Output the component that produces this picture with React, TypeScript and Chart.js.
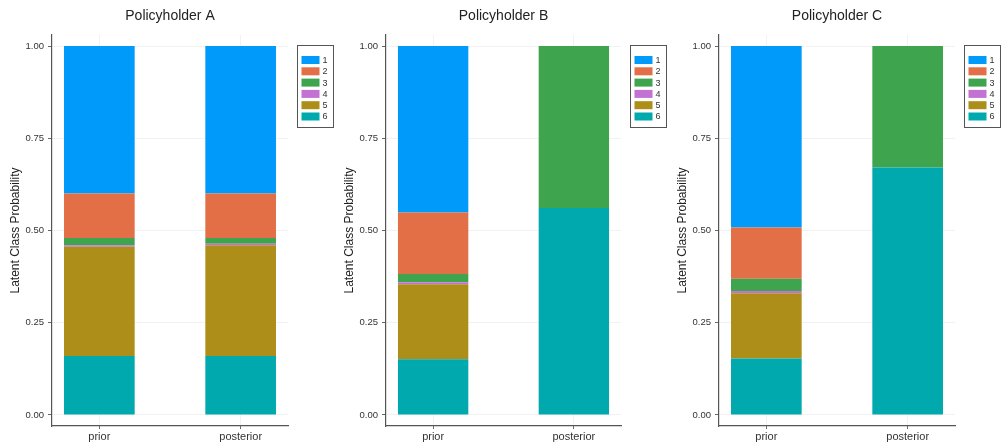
import React, { useEffect, useRef } from "react";
import { Chart, registerables } from "chart.js";

Chart.register(...registerables);

const FONT = "'Liberation Sans', Arial, sans-serif";

const classLabels = ["1", "2", "3", "4", "5", "6"];
const classColors = ["#009AFA", "#E36F47", "#3EA44E", "#C371D2", "#AC8E18", "#00A9AD"];
const stageLabels = ["prior", "posterior"];
const stagePositions = [1, 2];
const yTickValues = [0, 0.25, 0.5, 0.75, 1];
const panelTitles = ["Policyholder A", "Policyholder B", "Policyholder C"];

// class probabilities, classes 1..6
const priorA = [0.4, 0.12, 0.02, 0.004, 0.296, 0.16];
const posteriorA = [0.4, 0.12, 0.016, 0.004, 0.3, 0.16];
const priorB = [0.451, 0.167, 0.022, 0.006, 0.203, 0.151];
const posteriorB = [0, 0, 0.439, 0, 0, 0.561];
const priorC = [0.492, 0.139, 0.033, 0.006, 0.177, 0.153];
const posteriorC = [0, 0, 0.329, 0, 0, 0.671];

const panelData = [
  [priorA, posteriorA],
  [priorB, posteriorB],
  [priorC, posteriorC],
];

const panelLefts = [0, 334, 667];
const panelWidths = [334, 333, 334];

const titleAndLegendPlugin = {
  id: "titleAndLegend",
  afterDraw(chart: any) {
    const ctx = chart.ctx;
    const area = chart.chartArea;
    const title = chart.options.plugins.panelTitle.text;
    ctx.save();
    ctx.fillStyle = "#222";
    ctx.font = `14px ${FONT}`;
    ctx.textAlign = "center";
    ctx.textBaseline = "middle";
    ctx.fillText(title, (area.left + area.right) / 2, 16);

    // legend box
    const bx = area.right + 9.5;
    const by = 45.5;
    const bw = 36;
    const bh = 82;
    ctx.strokeStyle = "#555";
    ctx.lineWidth = 1;
    ctx.strokeRect(bx, by, bw, bh);
    ctx.font = `9px ${FONT}`;
    ctx.textAlign = "left";
    for (let k = 0; k < classLabels.length; k++) {
      const cy = 60 + k * 11.3;
      ctx.fillStyle = classColors[k];
      ctx.fillRect(bx + 4, cy - 4, 18, 8);
      ctx.fillStyle = "#333";
      ctx.fillText(classLabels[k], bx + 25, cy + 0.5);
    }
    ctx.restore();
  },
};

function Panel({ index }: { index: number }) {
  const ref = useRef<HTMLCanvasElement | null>(null);
  useEffect(() => {
    if (!ref.current) return;
    const [prior, posterior] = panelData[index];
    const stages = [prior, posterior];
    const datasets = [];
    for (let k = classLabels.length - 1; k >= 0; k--) {
      datasets.push({
        label: classLabels[k],
        data: stagePositions.map((x, i) => ({ x, y: stages[i][k] })),
        backgroundColor: classColors[k],
        borderWidth: 0,
        categoryPercentage: 1,
        barPercentage: 0.5,
      });
    }
    const chart = new Chart(ref.current, {
      type: "bar",
      data: { datasets: datasets as any },
      plugins: [titleAndLegendPlugin],
      options: {
        responsive: false,
        animation: false,
        layout: { padding: { top: 35, right: 46, left: 0, bottom: 0 } },
        plugins: {
          legend: { display: false },
          title: { display: false },
          tooltip: { enabled: false },
          panelTitle: { text: panelTitles[index] },
        } as any,
        scales: {
          x: {
            type: "linear",
            stacked: true,
            offset: false,
            min: 0.665,
            max: 2.335,
            afterBuildTicks: (s: any) => {
              s.ticks = stagePositions.map((v) => ({ value: v }));
            },
            afterFit: (s: any) => {
              s.height = 17;
            },
            ticks: {
              callback: (_v: any, i: number) => stageLabels[i],
              font: { family: FONT, size: 11 },
              color: "#333",
              padding: 1,
              maxRotation: 0,
              autoSkip: false,
            },
            grid: { offset: false, color: "rgba(0,0,0,0.05)", tickLength: 3, tickColor: "#666" },
            border: { color: "#555", width: 1.2 },
          },
          y: {
            stacked: true,
            min: -0.03,
            max: 1.03,
            afterBuildTicks: (s: any) => {
              s.ticks = yTickValues.map((v) => ({ value: v }));
            },
            afterFit: (s: any) => {
              s.width = 52;
            },
            ticks: {
              callback: (v: any) => Number(v).toFixed(2),
              font: { family: FONT, size: 9.5 },
              color: "#333",
              padding: 4,
            },
            grid: { color: "rgba(0,0,0,0.05)", tickLength: 4, tickColor: "#666" },
            border: { color: "#555", width: 1.2 },
            title: {
              display: true,
              text: "Latent Class Probability",
              font: { family: FONT, size: 12 },
              color: "#222",
              padding: { top: 8, bottom: 0 },
            },
          },
        },
      } as any,
    });
    return () => chart.destroy();
  }, [index]);
  return (
    <div
      style={{
        position: "absolute",
        left: panelLefts[index],
        top: 0,
        width: panelWidths[index],
        height: 443,
      }}
    >
      <canvas ref={ref} width={panelWidths[index]} height={443} style={{ display: "block" }} />
    </div>
  );
}

export default function App() {
  return (
    <div
      style={{
        position: "fixed",
        left: 0,
        top: 0,
        width: 1001,
        height: 443,
        background: "#fff",
        overflow: "hidden",
      }}
    >
      {panelTitles.map((_, i) => (
        <Panel key={i} index={i} />
      ))}
    </div>
  );
}
